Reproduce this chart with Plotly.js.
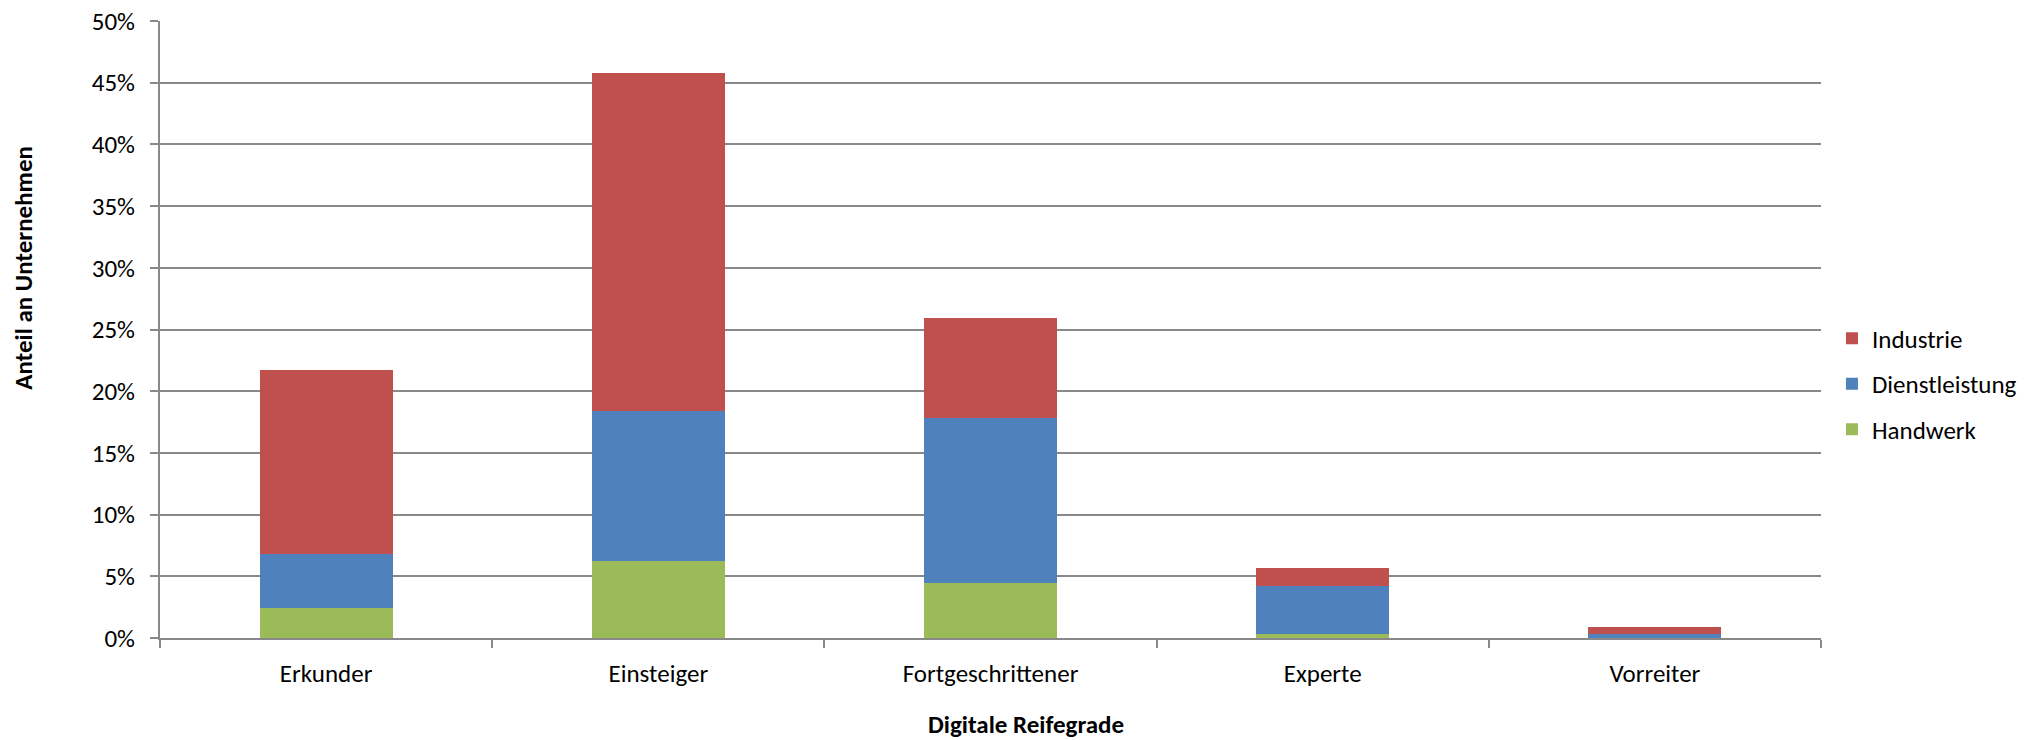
<!DOCTYPE html>
<html>
<head>
<meta charset="utf-8">
<script src="https://cdn.plot.ly/plotly-3.0.1.min.js"></script>
<style>html,body{margin:0;padding:0;background:#fff;}#chart{width:2042px;height:740px;}</style>
</head>
<body>
<div id="chart"></div>
<script>
const categories = ["Erkunder", "Einsteiger", "Fortgeschrittener", "Experte", "Vorreiter"];
const handwerk = [0.024, 0.062, 0.0445, 0.003, 0.0004];
const dienstleistung = [0.044, 0.122, 0.134, 0.0388, 0.0025];
const industrie = [0.149, 0.274, 0.0805, 0.015, 0.006];
const yTickVals = [0, 0.05, 0.10, 0.15, 0.20, 0.25, 0.30, 0.35, 0.40, 0.45, 0.50];
const yTickText = ["0%", "5%", "10%", "15%", "20%", "25%", "30%", "35%", "40%", "45%", "50%"];

const FONT = "Carlito, Calibri, 'Open Sans', sans-serif";
const gridCol = "#898989";
const FS = 25;

const mk = (name, y, color, rank) => ({
  type: "bar", name: name, x: categories, y: y, legendgroup: name, legendrank: rank,
  marker: {color: color, line: {width: 0}}
});

const data = [
  mk("Handwerk", handwerk, "#9BBB59", 3),
  mk("Dienstleistung", dienstleistung, "#4F81BD", 2),
  mk("Industrie", industrie, "#C0504D", 1)
];

const layout = {
  width: 2042, height: 740,
  margin: {l: 160, r: 221, t: 21, b: 102},
  barmode: "stack",
  bargap: 0.6,
  paper_bgcolor: "#fff", plot_bgcolor: "#fff",
  font: {family: FONT, size: FS, color: "#000"},
  showlegend: true,
  legend: {
    traceorder: "grouped",
    x: 1.0066, xanchor: "left", y: 0.4117, yanchor: "middle",
    font: {family: FONT, size: FS, color: "#000"},
    tracegroupgap: 10, itemwidth: 30
  },
  xaxis: {
    type: "category",
    showline: true, linecolor: gridCol, linewidth: 2,
    ticks: "outside", tickson: "boundaries", ticklen: 8, tickcolor: gridCol, tickwidth: 2,
    ticklabelstandoff: 12,
    showgrid: false, zeroline: false,
    tickfont: {family: FONT, size: FS, color: "#000"},
    automargin: false
  },
  yaxis: {
    range: [0, 0.5],
    tickvals: yTickVals, ticktext: yTickText,
    showline: true, linecolor: gridCol, linewidth: 2,
    ticks: "outside", ticklen: 8, tickcolor: gridCol, tickwidth: 2,
    ticklabelstandoff: 10,
    showgrid: true, gridcolor: gridCol, gridwidth: 2,
    zeroline: false,
    tickfont: {family: FONT, size: FS, color: "#000"},
    automargin: false
  },
  annotations: [
    {text: "<b>Anteil an Unternehmen</b>", xref: "paper", yref: "paper",
     x: -0.0819, y: 0.6, xanchor: "center", yanchor: "middle", textangle: -90,
     showarrow: false, font: {family: FONT, size: FS, color: "#000"}},
    {text: "<b>Digitale Reifegrade</b>", xref: "paper", yref: "paper",
     x: 0.5214, y: -0.1394, xanchor: "center", yanchor: "middle",
     showarrow: false, font: {family: FONT, size: FS, color: "#000"}}
  ]
};

Plotly.newPlot("chart", data, layout, {displayModeBar: false, staticPlot: true});
</script>
</body>
</html>
